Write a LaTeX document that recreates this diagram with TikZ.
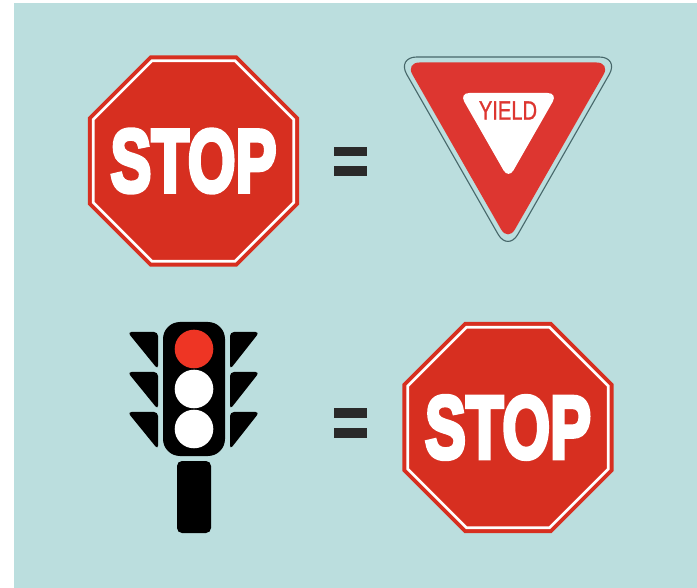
\documentclass[tikz,border=0pt]{standalone}
\usepackage{fontspec}
\usetikzlibrary{shapes.geometric}
\newfontfamily\signfont[FakeBold=5]{Liberation Sans Bold}
\newfontfamily\yieldfont[FakeBold=1]{Liberation Sans}

\definecolor{panelteal}{HTML}{BBDEDE}
\definecolor{stopred}{HTML}{D72F20}
\definecolor{yieldred}{HTML}{DD3630}
\definecolor{lampred}{HTML}{EE3524}
\definecolor{rimgray}{HTML}{47676A}
\definecolor{barblack}{HTML}{2A2A2A}

\tikzset{
  octagon/.style={regular polygon, regular polygon sides=8, inner sep=0pt, outer sep=0pt},
  stopword/.style={font=\signfont\fontsize{89}{89}\selectfont, text=white, transform shape, xscale=0.69, inner sep=0pt},
  visor/.style={fill=black, rounded corners=4pt},
  lamp/.style={circle, minimum size=38.6pt, inner sep=0pt},
}

\begin{document}
\begin{tikzpicture}[x=1pt, y=-1pt]

  %% Canvas and panel
  \useasboundingbox (0,0) rectangle (697,588);
  \fill[panelteal] (14,3) rectangle (697,588);

  %% Upper stop sign
  \node[octagon, fill=stopred, minimum size=228.4pt] (stopA) at (193.5,161) {};
  \node[octagon, draw=white, line width=2.6pt, minimum size=217pt] (stopArim) at (stopA) {};
  \node[stopword] (stopAword) at (193.5,161) {STOP};

  %% Equals signs
  \foreach \y in {147, 166.5, 408.5, 428}
    \fill[barblack] (334,\y) rectangle (367,\y+9.5);

  %% Yield sign
  \draw[rimgray, line width=1.1pt, rounded corners=20pt]
    (396.8,57) -- (619.2,57) -- (508,251.6) -- cycle;
  \fill[yieldred, rounded corners=14pt]
    (405.5,62.5) -- (610.5,62.5) -- (508,241.5) -- cycle;
  \fill[white, rounded corners=10pt]
    (459.3,93) -- (557.7,93) -- (508.5,179) -- cycle;
  \node[font=\yieldfont\fontsize{26.5}{26.5}\selectfont, text=yieldred, transform shape, xscale=0.76, inner sep=0pt]
    (yieldword) at (508,110.5) {YIELD};

  %% Traffic light
  \fill[black, rounded corners=17pt] (163,322) rectangle (225,456);
  \fill[black, rounded corners=5pt] (177,461) rectangle (211,533);
  \foreach \y in {332, 372, 412} {
    \fill[visor] (127.5,\y) -- (158,\y) -- (158,\y+37.5) -- cycle;
    \fill[visor] (259.5,\y) -- (230,\y) -- (230,\y+37.5) -- cycle;
  }
  \node[lamp, fill=lampred] (lampTop) at (194,349) {};
  \node[lamp, fill=white] (lampMid) at (194,389) {};
  \node[lamp, fill=white] (lampLow) at (194,429) {};

  %% Lower stop sign
  \node[octagon, fill=stopred, minimum size=228.4pt] (stopB) at (508,427.5) {};
  \node[octagon, draw=white, line width=2.6pt, minimum size=217pt] (stopBrim) at (stopB) {};
  \node[stopword] (stopBword) at (508,427.5) {STOP};

\end{tikzpicture}
\end{document}
